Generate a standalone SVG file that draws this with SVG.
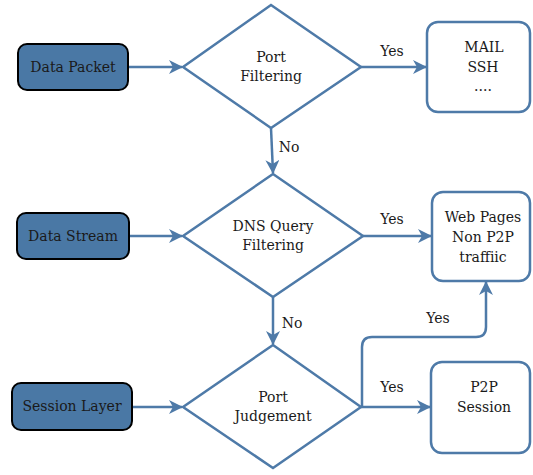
<svg xmlns="http://www.w3.org/2000/svg" width="533" height="475" viewBox="0 0 533 475">
<style>
.t{font-size:14px;fill:#1a1a1a;text-anchor:middle}
.src{fill:#4a78a5;stroke:#000;stroke-width:2}
.dec{fill:#fff;stroke:#4e7aa8;stroke-width:2.5;stroke-linejoin:miter}
.out{fill:#fff;stroke:#4e7aa8;stroke-width:2.5}
.ln{fill:none;stroke:#4e7aa8;stroke-width:2.5}
</style>
<defs>
<marker id="ah" markerWidth="14" markerHeight="14" refX="13" refY="7" orient="auto" markerUnits="userSpaceOnUse" viewBox="0 0 14 14">
<path d="M0,0 L14,7 L0,14 L4,7 Z" fill="#4e7aa8"/>
</marker>
</defs>
<g font-family="'DejaVu Serif', serif" class="t">
<g id="connectors">
<line class="ln" x1="128" y1="67" x2="182" y2="67" marker-end="url(#ah)"/>
<line class="ln" x1="129" y1="236" x2="182" y2="236" marker-end="url(#ah)"/>
<line class="ln" x1="132" y1="407" x2="182" y2="407" marker-end="url(#ah)"/>
<line class="ln" x1="361" y1="67" x2="426" y2="67" marker-end="url(#ah)"/>
<line class="ln" x1="271" y1="128" x2="273" y2="173" marker-end="url(#ah)"/>
<line class="ln" x1="363" y1="236" x2="431" y2="236" marker-end="url(#ah)"/>
<line class="ln" x1="273" y1="297" x2="273" y2="344" marker-end="url(#ah)"/>
<line class="ln" x1="361" y1="407" x2="430" y2="407" marker-end="url(#ah)"/>
<path class="ln" d="M362,407 L362,347 Q362,337 372,337 L476,337 Q486,337 486,327 L486,282" marker-end="url(#ah)"/>
<text x="392" y="56">Yes</text>
<text x="289" y="152">No</text>
<text x="392" y="224">Yes</text>
<text x="292" y="328">No</text>
<text x="438" y="323">Yes</text>
<text x="392" y="392">Yes</text>
</g>
<g id="data-packet"><rect class="src" x="18" y="44" width="110" height="46" rx="9"/><text x="73" y="72">Data Packet</text></g>
<g id="data-stream"><rect class="src" x="17" y="213" width="112" height="46" rx="9"/><text x="73" y="241">Data Stream</text></g>
<g id="session-layer"><rect class="src" x="12" y="383" width="120" height="47" rx="9"/><text x="72" y="411">Session Layer</text></g>
<g id="port-filtering"><polygon class="dec" points="271,5 361,67 271,128 183,67"/><text x="271" y="62">Port</text><text x="271" y="81">Filtering</text></g>
<g id="dns-query"><polygon class="dec" points="273,174 363,236 273,297 183,236"/><text x="273" y="231">DNS Query</text><text x="273" y="250">Filtering</text></g>
<g id="port-judgement"><polygon class="dec" points="273,345 361,407 273,468 183,407"/><text x="273" y="402">Port</text><text x="273" y="421">Judgement</text></g>
<g id="mail"><rect class="out" x="427" y="22" width="103" height="90" rx="11"/><text x="484" y="52">MAIL</text><text x="483" y="72">SSH</text><text x="483" y="91">....</text></g>
<g id="web-pages"><rect class="out" x="432" y="192" width="98" height="89" rx="11"/><text x="483" y="222">Web Pages</text><text x="483" y="242">Non P2P</text><text x="483" y="262">traffiic</text></g>
<g id="p2p"><rect class="out" x="431" y="362" width="99" height="91" rx="11"/><text x="484" y="392">P2P</text><text x="484" y="412">Session</text></g>
</g>
</svg>
